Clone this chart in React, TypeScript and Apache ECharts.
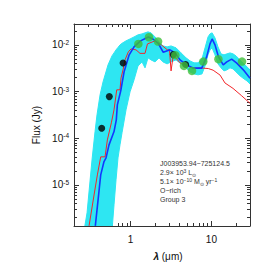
import React, { useEffect, useRef } from "react";
import * as echarts from "echarts";

// wavelength grid (micron) for the cyan model envelope
const LAMBDA_GRID = [0.266, 0.29, 0.334, 0.364, 0.385, 0.42, 0.457, 0.527, 0.59, 0.625, 0.662, 0.7, 0.741, 0.785, 0.88, 0.986, 1.105, 1.238, 1.387, 1.511, 1.645, 1.792, 2.009, 2.25, 2.52, 2.83, 3.17, 3.65, 4.21, 4.86, 5.44, 6.1, 6.83, 7.65, 8.34, 9.08, 9.61, 10.2, 11.07, 12.06, 13.13, 14.31, 15.59, 16.98, 18.49, 20.14, 22.56, 25.27, 27.54, 30.0];
const CYAN_UPPER = [6.7e-7, 2.53e-6, 3.44e-5, 1.39e-4, 3.17e-4, 8.49e-4, 1.61e-3, 3.73e-3, 5.81e-3, 6.74e-3, 7.82e-3, 8.84e-3, 1.0e-2, 1.08e-2, 1.22e-2, 1.34e-2, 1.48e-2, 1.64e-2, 1.72e-2, 1.81e-2, 1.9e-2, 1.81e-2, 1.48e-2, 1.16e-2, 9.5e-3, 9.06e-3, 9.5e-3, 8.63e-3, 6.74e-3, 5.27e-3, 4.54e-3, 4.12e-3, 4.12e-3, 5.01e-3, 8.63e-3, 1.48e-2, 1.72e-2, 1.81e-2, 1.41e-2, 9.06e-3, 6.42e-3, 6.11e-3, 6.42e-3, 6.74e-3, 6.42e-3, 5.81e-3, 4.77e-3, 3.92e-3, 3.38e-3, 2.92e-3];
const CYAN_LOWER = [6.7e-7, 6.7e-7, 6.7e-7, 6.7e-7, 6.7e-7, 6.7e-7, 6.7e-7, 6.7e-7, 6.7e-7, 3.75e-6, 1.29e-5, 3.8e-5, 7.22e-5, 1.31e-4, 4.06e-4, 9.86e-4, 1.78e-3, 3.55e-3, 4.32e-3, 3.22e-3, 5.27e-3, 4.77e-3, 4.32e-3, 5.27e-3, 4.32e-3, 3.92e-3, 4.32e-3, 4.77e-3, 3.92e-3, 3.22e-3, 2.64e-3, 2.39e-3, 2.28e-3, 2.39e-3, 3.55e-3, 6.11e-3, 7.82e-3, 8.63e-3, 6.11e-3, 3.92e-3, 3.22e-3, 2.77e-3, 2.92e-3, 3.22e-3, 3.06e-3, 2.64e-3, 2.17e-3, 1.87e-3, 1.69e-3, 1.46e-3];

// best-fit model (blue)
const BEST_LAMBDA = [0.367, 0.428, 0.47, 0.498, 0.542, 0.625, 0.667, 0.687, 0.757, 0.832, 0.958, 1.105, 1.33, 1.66, 1.91, 2.21, 2.54, 3.08, 3.55, 4.09, 4.95, 5.98, 7.59, 8.75, 9.61, 10.2, 11.07, 12.2, 14.0, 15.5, 17.8, 20.6, 24.8, 30.0];
const BEST_FLUX = [1.33e-6, 1.64e-5, 3.17e-5, 3.8e-5, 7.22e-5, 1.39e-4, 2.48e-4, 5.19e-4, 1.04e-3, 2.64e-3, 6.02e-3, 9.06e-3, 1.22e-2, 1.48e-2, 1.32e-2, 1.07e-2, 6.91e-3, 7.82e-3, 6.74e-3, 4.77e-3, 3.73e-3, 3.17e-3, 3.17e-3, 5.61e-3, 1.05e-2, 1.34e-2, 1.0e-2, 5.61e-3, 3.73e-3, 4.32e-3, 4.94e-3, 4.06e-3, 2.92e-3, 1.92e-3];

// photosphere model (red)
const PHOT_LAMBDA = [0.307, 0.354, 0.389, 0.428, 0.484, 0.517, 0.579, 0.625, 0.675, 0.741, 0.763, 0.808, 0.855, 0.939, 1.014, 1.17, 1.31, 1.51, 1.62, 2.01, 2.43, 2.85, 3.03, 3.17, 3.38, 4.09, 4.95, 5.98, 7.23, 9.16, 10.5, 12.8, 14.7, 18.5, 23.7, 30.0];
const PHOT_FLUX = [1.33e-6, 6.1e-6, 1.64e-5, 4.0e-5, 4.0e-5, 9.2e-5, 2.14e-4, 4.06e-4, 1.09e-3, 1.09e-3, 1.96e-3, 2.92e-3, 4.77e-3, 7.08e-3, 8.2e-3, 7.82e-3, 6.58e-3, 6.58e-3, 1.05e-2, 1.22e-2, 9.86e-3, 7.82e-3, 7.82e-3, 2.77e-3, 6.11e-3, 4.12e-3, 3.64e-3, 3.14e-3, 3.22e-3, 3.11e-3, 2.87e-3, 2.25e-3, 1.53e-3, 1.17e-3, 8.1e-4, 5.6e-4];

// photometry
const BLACK_LAMBDA = [0.44, 0.547, 0.808, 3.38, 4.8];
const BLACK_FLUX = [1.64e-4, 7.8e-4, 4.1e-3, 6.19e-3, 3.79e-3];
const GREEN_LAMBDA = [1.25, 1.69, 2.19, 3.58, 4.58, 5.75, 7.94, 12.2, 23.9];
const GREEN_FLUX = [1.05e-2, 1.46e-2, 1.18e-2, 6.02e-3, 3.55e-3, 2.77e-3, 4.38e-3, 4.94e-3, 4.38e-3];

// axes
const X_RANGE = [0.2, 30];
const Y_RANGE = [1.32e-6, 2.8e-2];
const X_MAJOR = [1, 10];
const X_MINOR = [0.3, 0.4, 0.5, 0.6, 0.7, 0.8, 0.9, 2, 3, 4, 5, 6, 7, 8, 9, 20];
const Y_MAJOR = [1e-5, 1e-4, 1e-3, 1e-2];
const Y_MINOR = [2e-6, 3e-6, 4e-6, 5e-6, 6e-6, 7e-6, 8e-6, 9e-6, 2e-5, 3e-5, 4e-5, 5e-5, 6e-5, 7e-5, 8e-5, 9e-5, 2e-4, 3e-4, 4e-4, 5e-4, 6e-4, 7e-4, 8e-4, 9e-4, 2e-3, 3e-3, 4e-3, 5e-3, 6e-3, 7e-3, 8e-3, 9e-3, 2e-2];

const INFO_LINES = [
  "{t|J003953.94\u2212725124.5}",
  "{t|2.9\u00d7 10}{p|3}{t| L}{b|\u2299}",
  "{t|5.1\u00d7 10}{p|\u221210}{t| M}{b|\u2299}{t| yr}{p|\u22121}",
  "{t|O\u2212rich}",
  "{t|Group 3}",
];

const L = (v: number) => Math.log10(v);
const pairs = (xs: number[], ys: number[]) => xs.map((x, i) => [L(x), L(ys[i])]);

const FONT = "'Liberation Sans', Arial, Helvetica, sans-serif";
const AX = "#333";

export default function App() {
  const ref = useRef<HTMLDivElement>(null);
  useEffect(() => {
    document.body.style.margin = "0";
    if (!ref.current) return;
    const chart = echarts.init(ref.current, null, { renderer: "svg" });
    const xmin = L(X_RANGE[0]), xmax = L(X_RANGE[1]);
    const ymin = L(Y_RANGE[0]), ymax = L(Y_RANGE[1]);
    const tickStyle = { color: AX, width: 1 };
    const mkX = (pos: string, vals: number[], len: number, labels: boolean, line: boolean) => ({
      type: "value", position: pos, min: xmin, max: xmax, gridIndex: 0,
      axisLine: { show: line, onZero: false, lineStyle: { color: AX, width: 1 } },
      axisTick: { show: true, inside: true, length: len, customValues: vals.map(L), lineStyle: tickStyle },
      axisLabel: labels
        ? { show: true, customValues: vals.map(L), margin: 8, fontSize: 10, color: "#111", fontFamily: FONT,
            formatter: (v: number) => String(Math.round(Math.pow(10, v))) }
        : { show: false },
      splitLine: { show: false },
    });
    const mkY = (pos: string, vals: number[], len: number, labels: boolean, line: boolean) => ({
      type: "value", position: pos, min: ymin, max: ymax, gridIndex: 0,
      axisLine: { show: line, onZero: false, lineStyle: { color: AX, width: 1 } },
      axisTick: { show: true, inside: true, length: len, customValues: vals.map(L), lineStyle: tickStyle },
      axisLabel: labels
        ? { show: true, customValues: vals.map(L), margin: 5, color: "#111", fontFamily: FONT,
            formatter: (v: number) => `{m|10}{s|${Math.round(v)}}`,
            rich: { m: { fontSize: 10, fontFamily: FONT, color: "#111" }, s: { fontSize: 6.5, fontFamily: FONT, color: "#111", verticalAlign: "top", padding: [0, 0, 5, 0] } } }
        : { show: false },
      splitLine: { show: false },
    });
    const xAxis: any[] = [
      { ...mkX("bottom", X_MAJOR, 5, true, true), name: "{l|\u03bb} (\u03bcm)", nameLocation: "middle", nameGap: 25,
        nameTextStyle: { fontSize: 10, color: "#111", fontFamily: FONT, padding: [0, 0, 0, 12], rich: { l: { fontSize: 10, fontStyle: "italic", fontWeight: "bold", fontFamily: FONT } } } },
      mkX("bottom", X_MINOR, 3, false, false),
      mkX("top", X_MAJOR, 5, false, true),
      mkX("top", X_MINOR, 3, false, false),
    ];
    const yAxis: any[] = [
      { ...mkY("left", Y_MAJOR, 5, true, true), name: "Flux (Jy)", nameLocation: "middle", nameGap: 31,
        nameTextStyle: { fontSize: 10, color: "#111", fontFamily: FONT } },
      mkY("left", Y_MINOR, 3, false, false),
      mkY("right", Y_MAJOR, 5, false, true),
      mkY("right", Y_MINOR, 3, false, false),
    ];
    const CYAN = "#2ee6f2";
    const option: any = {
      animation: false,
      backgroundColor: "#fff",
      grid: { left: 74, right: 23, top: 24, bottom: 47, containLabel: false, outerBoundsMode: "none" },
      xAxis,
      yAxis,
      graphic: [
        {
          type: "text", left: 160, top: 160, z: 100,
          style: {
            text: INFO_LINES.join("\n"),
            rich: {
              t: { fontSize: 7, lineHeight: 9, fill: "#333", fontFamily: FONT },
              p: { fontSize: 5, lineHeight: 9, fill: "#333", fontFamily: FONT, verticalAlign: "top", padding: [0, 0, 3, 0] },
              b: { fontSize: 5, lineHeight: 9, fill: "#333", fontFamily: FONT, verticalAlign: "bottom" },
            },
          },
        },
      ],
      series: [
        {
          type: "custom", name: "model grid", silent: true, z: 1, clip: true,
          data: [[L(LAMBDA_GRID[0]), L(CYAN_UPPER[0])]],
          renderItem: (params: any, api: any) => {
            const cs = params.coordSys;
            const clampY = (y: number) => Math.min(Math.max(y, cs.y - 5), cs.y + cs.height + 5);
            const up = LAMBDA_GRID.map((x, i) => {
              const p = api.coord([L(x), L(CYAN_UPPER[i])]);
              return [p[0], clampY(p[1])];
            });
            const lo = LAMBDA_GRID.map((x, i) => {
              const p = api.coord([L(x), L(CYAN_LOWER[i])]);
              return [p[0], clampY(p[1])];
            }).reverse();
            return {
              type: "polygon",
              shape: { points: up.concat(lo) },
              style: { fill: CYAN, stroke: CYAN, lineWidth: 1 },
            };
          },
        },
        {
          type: "line", name: "photosphere", data: pairs(PHOT_LAMBDA, PHOT_FLUX), symbol: "none",
          lineStyle: { color: "#f2262a", width: 1 }, z: 3,
        },
        {
          type: "line", name: "best", data: pairs(BEST_LAMBDA, BEST_FLUX), symbol: "none",
          lineStyle: { color: "#1237ff", width: 1.6 }, z: 4,
        },
        {
          type: "scatter", name: "optical", data: pairs(BLACK_LAMBDA, BLACK_FLUX), symbol: "circle", symbolSize: 7,
          itemStyle: { color: "#000" }, z: 5,
        },
        {
          type: "scatter", name: "ir", data: pairs(GREEN_LAMBDA, GREEN_FLUX), symbol: "circle", symbolSize: 8.5,
          itemStyle: { color: "#3fbf3a" }, z: 6,
        },
      ],
    };
    chart.setOption(option);
    return () => chart.dispose();
  }, []);
  return <div ref={ref} style={{ width: 273, height: 273 }} />;
}
